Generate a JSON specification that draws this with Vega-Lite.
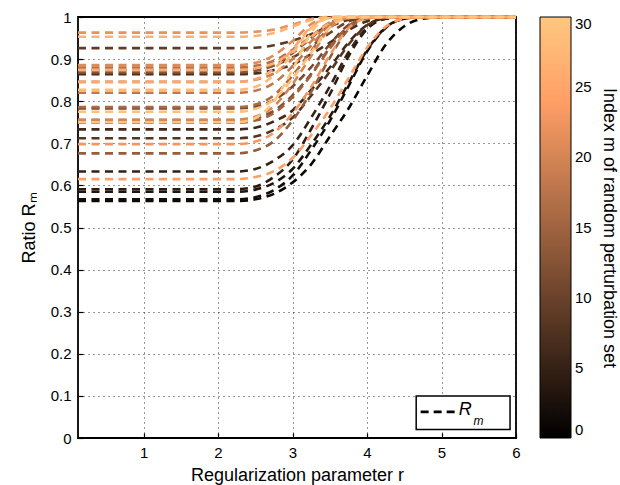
{
"$schema": "https://vega.github.io/schema/vega-lite/v6.json",
"width": 438, "height": 421,
"autosize": {"type": "none"},
"padding": {"left": 78, "top": 17, "right": 104, "bottom": 47},
"background": "white",
"config": {
  "font": "Liberation Sans",
  "view": {"stroke": "black", "strokeWidth": 1.8},
  "axis": {"domain": false, "grid": true, "gridColor": "#000000", "gridOpacity": 0.8, "gridDash": [1, 4], "gridWidth": 1, "tickColor": "#000000", "tickSize": -5, "tickWidth": 1.2, "labelPadding": 12, "labelFlush": false, "labelFontSize": 15, "labelColor": "#000000", "titleFontSize": 18, "titleFontWeight": "normal", "titleColor": "#000000"}
},
"layer": [
 {
  "data": {"values": [
{"m":1,"r":0.12,"v":0.563},{"m":1,"r":2.25,"v":0.563},{"m":1,"r":2.5,"v":0.567},{"m":1,"r":2.75,"v":0.58},{"m":1,"r":3,"v":0.607},{"m":1,"r":3.25,"v":0.65},{"m":1,"r":3.5,"v":0.716},{"m":1,"r":3.75,"v":0.782},{"m":1,"r":4,"v":0.86},{"m":1,"r":4.25,"v":0.934},{"m":1,"r":4.5,"v":0.978},{"m":1,"r":4.75,"v":0.996},{"m":1,"r":5,"v":1},{"m":1,"r":6,"v":1},
{"m":2,"r":0.12,"v":0.567},{"m":2,"r":2.25,"v":0.567},{"m":2,"r":2.5,"v":0.572},{"m":2,"r":2.75,"v":0.589},{"m":2,"r":3,"v":0.623},{"m":2,"r":3.25,"v":0.684},{"m":2,"r":3.5,"v":0.753},{"m":2,"r":3.75,"v":0.835},{"m":2,"r":4,"v":0.918},{"m":2,"r":4.25,"v":0.974},{"m":2,"r":4.5,"v":0.996},{"m":2,"r":4.75,"v":1},{"m":2,"r":6,"v":1},
{"m":3,"r":0.12,"v":0.585},{"m":3,"r":2.25,"v":0.585},{"m":3,"r":2.5,"v":0.59},{"m":3,"r":2.75,"v":0.606},{"m":3,"r":3,"v":0.639},{"m":3,"r":3.25,"v":0.697},{"m":3,"r":3.5,"v":0.763},{"m":3,"r":3.75,"v":0.842},{"m":3,"r":4,"v":0.921},{"m":3,"r":4.25,"v":0.975},{"m":3,"r":4.5,"v":0.996},{"m":3,"r":4.75,"v":1},{"m":3,"r":6,"v":1},
{"m":4,"r":0.12,"v":0.591},{"m":4,"r":2.25,"v":0.591},{"m":4,"r":2.5,"v":0.597},{"m":4,"r":2.75,"v":0.62},{"m":4,"r":3,"v":0.661},{"m":4,"r":3.25,"v":0.734},{"m":4,"r":3.5,"v":0.816},{"m":4,"r":3.75,"v":0.906},{"m":4,"r":4,"v":0.971},{"m":4,"r":4.25,"v":0.996},{"m":4,"r":4.5,"v":1},{"m":4,"r":6,"v":1},
{"m":5,"r":0.12,"v":0.633},{"m":5,"r":2.25,"v":0.633},{"m":5,"r":2.5,"v":0.639},{"m":5,"r":2.75,"v":0.659},{"m":5,"r":3,"v":0.695},{"m":5,"r":3.25,"v":0.761},{"m":5,"r":3.5,"v":0.835},{"m":5,"r":3.75,"v":0.916},{"m":5,"r":4,"v":0.974},{"m":5,"r":4.25,"v":0.996},{"m":5,"r":4.5,"v":1},{"m":5,"r":6,"v":1},
{"m":6,"r":0.12,"v":0.733},{"m":6,"r":2.25,"v":0.733},{"m":6,"r":2.5,"v":0.737},{"m":6,"r":2.75,"v":0.752},{"m":6,"r":3,"v":0.778},{"m":6,"r":3.25,"v":0.827},{"m":6,"r":3.5,"v":0.88},{"m":6,"r":3.75,"v":0.939},{"m":6,"r":4,"v":0.981},{"m":6,"r":4.25,"v":0.997},{"m":6,"r":4.5,"v":1},{"m":6,"r":6,"v":1},
{"m":7,"r":0.12,"v":0.864},{"m":7,"r":2.25,"v":0.864},{"m":7,"r":2.5,"v":0.866},{"m":7,"r":2.75,"v":0.874},{"m":7,"r":3,"v":0.887},{"m":7,"r":3.25,"v":0.912},{"m":7,"r":3.5,"v":0.939},{"m":7,"r":3.75,"v":0.969},{"m":7,"r":4,"v":0.99},{"m":7,"r":4.25,"v":0.999},{"m":7,"r":4.5,"v":1},{"m":7,"r":6,"v":1},
{"m":8,"r":0.12,"v":0.712},{"m":8,"r":2.25,"v":0.712},{"m":8,"r":2.5,"v":0.716},{"m":8,"r":2.75,"v":0.732},{"m":8,"r":3,"v":0.761},{"m":8,"r":3.25,"v":0.813},{"m":8,"r":3.5,"v":0.87},{"m":8,"r":3.75,"v":0.934},{"m":8,"r":4,"v":0.98},{"m":8,"r":4.25,"v":0.997},{"m":8,"r":4.5,"v":1},{"m":8,"r":6,"v":1},
{"m":9,"r":0.12,"v":0.926},{"m":9,"r":2.25,"v":0.926},{"m":9,"r":2.5,"v":0.927},{"m":9,"r":2.75,"v":0.933},{"m":9,"r":3,"v":0.944},{"m":9,"r":3.25,"v":0.959},{"m":9,"r":3.5,"v":0.978},{"m":9,"r":3.75,"v":0.993},{"m":9,"r":4,"v":0.999},{"m":9,"r":4.25,"v":1},{"m":9,"r":6,"v":1},
{"m":10,"r":0.12,"v":0.874},{"m":10,"r":2.25,"v":0.874},{"m":10,"r":2.5,"v":0.877},{"m":10,"r":2.75,"v":0.885},{"m":10,"r":3,"v":0.904},{"m":10,"r":3.25,"v":0.931},{"m":10,"r":3.5,"v":0.962},{"m":10,"r":3.75,"v":0.989},{"m":10,"r":4,"v":0.999},{"m":10,"r":4.25,"v":1},{"m":10,"r":6,"v":1},
{"m":11,"r":0.12,"v":0.783},{"m":11,"r":2.25,"v":0.783},{"m":11,"r":2.5,"v":0.787},{"m":11,"r":2.75,"v":0.803},{"m":11,"r":3,"v":0.835},{"m":11,"r":3.25,"v":0.881},{"m":11,"r":3.5,"v":0.935},{"m":11,"r":3.75,"v":0.981},{"m":11,"r":4,"v":0.998},{"m":11,"r":4.25,"v":1},{"m":11,"r":6,"v":1},
{"m":12,"r":0.12,"v":0.755},{"m":12,"r":2.25,"v":0.755},{"m":12,"r":2.5,"v":0.76},{"m":12,"r":2.75,"v":0.777},{"m":12,"r":3,"v":0.814},{"m":12,"r":3.25,"v":0.865},{"m":12,"r":3.5,"v":0.927},{"m":12,"r":3.75,"v":0.978},{"m":12,"r":4,"v":0.998},{"m":12,"r":4.25,"v":1},{"m":12,"r":6,"v":1},
{"m":13,"r":0.12,"v":0.868},{"m":13,"r":2.25,"v":0.868},{"m":13,"r":2.5,"v":0.872},{"m":13,"r":2.75,"v":0.885},{"m":13,"r":3,"v":0.914},{"m":13,"r":3.25,"v":0.95},{"m":13,"r":3.5,"v":0.986},{"m":13,"r":3.75,"v":0.999},{"m":13,"r":4,"v":1},{"m":13,"r":6,"v":1},
{"m":14,"r":0.12,"v":0.676},{"m":14,"r":2.25,"v":0.676},{"m":14,"r":2.5,"v":0.683},{"m":14,"r":2.75,"v":0.705},{"m":14,"r":3,"v":0.754},{"m":14,"r":3.25,"v":0.822},{"m":14,"r":3.5,"v":0.903},{"m":14,"r":3.75,"v":0.971},{"m":14,"r":4,"v":0.997},{"m":14,"r":4.25,"v":1},{"m":14,"r":6,"v":1},
{"m":15,"r":0.12,"v":0.749},{"m":15,"r":2.25,"v":0.749},{"m":15,"r":2.5,"v":0.754},{"m":15,"r":2.75,"v":0.772},{"m":15,"r":3,"v":0.809},{"m":15,"r":3.25,"v":0.862},{"m":15,"r":3.5,"v":0.925},{"m":15,"r":3.75,"v":0.977},{"m":15,"r":4,"v":0.998},{"m":15,"r":4.25,"v":1},{"m":15,"r":6,"v":1},
{"m":16,"r":0.12,"v":0.786},{"m":16,"r":2.25,"v":0.786},{"m":16,"r":2.5,"v":0.792},{"m":16,"r":2.75,"v":0.814},{"m":16,"r":3,"v":0.861},{"m":16,"r":3.25,"v":0.919},{"m":16,"r":3.5,"v":0.977},{"m":16,"r":3.75,"v":0.998},{"m":16,"r":4,"v":1},{"m":16,"r":6,"v":1},
{"m":17,"r":0.12,"v":0.88},{"m":17,"r":2.25,"v":0.88},{"m":17,"r":2.5,"v":0.884},{"m":17,"r":2.75,"v":0.896},{"m":17,"r":3,"v":0.922},{"m":17,"r":3.25,"v":0.954},{"m":17,"r":3.5,"v":0.987},{"m":17,"r":3.75,"v":0.999},{"m":17,"r":4,"v":1},{"m":17,"r":6,"v":1},
{"m":18,"r":0.12,"v":0.82},{"m":18,"r":2.25,"v":0.82},{"m":18,"r":2.5,"v":0.825},{"m":18,"r":2.75,"v":0.843},{"m":18,"r":3,"v":0.883},{"m":18,"r":3.25,"v":0.932},{"m":18,"r":3.5,"v":0.98},{"m":18,"r":3.75,"v":0.998},{"m":18,"r":4,"v":1},{"m":18,"r":6,"v":1},
{"m":19,"r":0.12,"v":0.846},{"m":19,"r":2.25,"v":0.846},{"m":19,"r":2.5,"v":0.851},{"m":19,"r":2.75,"v":0.866},{"m":19,"r":3,"v":0.9},{"m":19,"r":3.25,"v":0.942},{"m":19,"r":3.5,"v":0.983},{"m":19,"r":3.75,"v":0.998},{"m":19,"r":4,"v":1},{"m":19,"r":6,"v":1},
{"m":20,"r":0.12,"v":0.756},{"m":20,"r":2.25,"v":0.756},{"m":20,"r":2.5,"v":0.763},{"m":20,"r":2.75,"v":0.788},{"m":20,"r":3,"v":0.841},{"m":20,"r":3.25,"v":0.907},{"m":20,"r":3.5,"v":0.973},{"m":20,"r":3.75,"v":0.998},{"m":20,"r":4,"v":1},{"m":20,"r":6,"v":1},
{"m":21,"r":0.12,"v":0.886},{"m":21,"r":2.25,"v":0.886},{"m":21,"r":2.5,"v":0.891},{"m":21,"r":2.75,"v":0.909},{"m":21,"r":3,"v":0.943},{"m":21,"r":3.25,"v":0.983},{"m":21,"r":3.5,"v":0.999},{"m":21,"r":3.75,"v":1},{"m":21,"r":6,"v":1},
{"m":22,"r":0.12,"v":0.963},{"m":22,"r":2.25,"v":0.963},{"m":22,"r":2.5,"v":0.965},{"m":22,"r":2.75,"v":0.97},{"m":22,"r":3,"v":0.982},{"m":22,"r":3.25,"v":0.995},{"m":22,"r":3.5,"v":1},{"m":22,"r":6,"v":1},
{"m":23,"r":0.12,"v":0.698},{"m":23,"r":2.25,"v":0.698},{"m":23,"r":2.5,"v":0.704},{"m":23,"r":2.75,"v":0.725},{"m":23,"r":3,"v":0.771},{"m":23,"r":3.25,"v":0.834},{"m":23,"r":3.5,"v":0.909},{"m":23,"r":3.75,"v":0.973},{"m":23,"r":4,"v":0.997},{"m":23,"r":4.25,"v":1},{"m":23,"r":6,"v":1},
{"m":24,"r":0.12,"v":0.615},{"m":24,"r":2.25,"v":0.615},{"m":24,"r":2.5,"v":0.62},{"m":24,"r":2.75,"v":0.634},{"m":24,"r":3,"v":0.665},{"m":24,"r":3.25,"v":0.719},{"m":24,"r":3.5,"v":0.781},{"m":24,"r":3.75,"v":0.854},{"m":24,"r":4,"v":0.927},{"m":24,"r":4.25,"v":0.977},{"m":24,"r":4.5,"v":0.996},{"m":24,"r":4.75,"v":1},{"m":24,"r":6,"v":1},
{"m":25,"r":0.12,"v":0.846},{"m":25,"r":2.25,"v":0.846},{"m":25,"r":2.5,"v":0.852},{"m":25,"r":2.75,"v":0.877},{"m":25,"r":3,"v":0.923},{"m":25,"r":3.25,"v":0.977},{"m":25,"r":3.5,"v":0.998},{"m":25,"r":3.75,"v":1},{"m":25,"r":6,"v":1},
{"m":26,"r":0.12,"v":0.874},{"m":26,"r":2.25,"v":0.874},{"m":26,"r":2.5,"v":0.878},{"m":26,"r":2.75,"v":0.89},{"m":26,"r":3,"v":0.918},{"m":26,"r":3.25,"v":0.952},{"m":26,"r":3.5,"v":0.986},{"m":26,"r":3.75,"v":0.999},{"m":26,"r":4,"v":1},{"m":26,"r":6,"v":1},
{"m":27,"r":0.12,"v":0.953},{"m":27,"r":2.25,"v":0.953},{"m":27,"r":2.5,"v":0.955},{"m":27,"r":2.75,"v":0.962},{"m":27,"r":3,"v":0.977},{"m":27,"r":3.25,"v":0.993},{"m":27,"r":3.5,"v":1},{"m":27,"r":6,"v":1},
{"m":28,"r":0.12,"v":0.827},{"m":28,"r":2.25,"v":0.827},{"m":28,"r":2.5,"v":0.834},{"m":28,"r":2.75,"v":0.862},{"m":28,"r":3,"v":0.914},{"m":28,"r":3.25,"v":0.974},{"m":28,"r":3.5,"v":0.998},{"m":28,"r":3.75,"v":1},{"m":28,"r":6,"v":1},
{"m":29,"r":0.12,"v":0.775},{"m":29,"r":2.25,"v":0.775},{"m":29,"r":2.5,"v":0.782},{"m":29,"r":2.75,"v":0.804},{"m":29,"r":3,"v":0.854},{"m":29,"r":3.25,"v":0.915},{"m":29,"r":3.5,"v":0.975},{"m":29,"r":3.75,"v":0.998},{"m":29,"r":4,"v":1},{"m":29,"r":6,"v":1},
{"m":30,"r":0.12,"v":0.75},{"m":30,"r":2.25,"v":0.75},{"m":30,"r":2.5,"v":0.76},{"m":30,"r":2.75,"v":0.8},{"m":30,"r":3,"v":0.875},{"m":30,"r":3.25,"v":0.963},{"m":30,"r":3.5,"v":0.998},{"m":30,"r":3.75,"v":1},{"m":30,"r":6,"v":1}
  ]},
  "mark": {"type": "line", "strokeDash": [8, 5.5], "strokeWidth": 2.6, "interpolate": "monotone", "clip": false},
  "encoding": {
   "x": {"field": "r", "type": "quantitative", "scale": {"domain": [0.12, 6], "nice": false, "zero": false},
         "axis": {"values": [1, 2, 3, 4, 5, 6], "format": "~g", "title": "Regularization parameter r", "titlePadding": 6}},
   "y": {"field": "v", "type": "quantitative", "scale": {"domain": [0, 1], "nice": false},
         "axis": {"values": [0, 0.1, 0.2, 0.3, 0.4, 0.5, 0.6, 0.7, 0.8, 0.9, 1], "format": "~g", "labelPadding": 12, "title": "Ratio  Rₘ", "titlePadding": 12}},
   "color": {"field": "m", "type": "quantitative",
     "scale": {"domain": [0, 24, 30], "range": ["#000000", "#ff9f66", "#ffc77f"], "interpolate": "rgb"},
     "legend": {"orient": "none", "legendX": 462, "legendY": 0, "direction": "vertical", "gradientLength": 421, "gradientThickness": 31,
       "values": [0, 5, 10, 15, 20, 25, 30], "title": "Index m of random perturbation set", "titleOrient": "right", "titleLimit": 600,
       "titleFontSize": 18, "titleFontWeight": "normal", "titleColor": "#000000", "labelFontSize": 15, "labelColor": "#000000", "labelOffset": 4,
       "labelBaseline": "middle", "gradientStrokeColor": "#000000", "gradientStrokeWidth": 1, "titlePadding": 8}}
  }
 },
 {
  "data": {"values": [{}]},
  "mark": {"type": "rect", "fill": "white", "stroke": "black", "strokeWidth": 1.5},
  "encoding": {"x": {"datum": 4.66}, "x2": {"datum": 5.92}, "y": {"datum": 0.02}, "y2": {"datum": 0.1}}
 },
 {
  "data": {"values": [{}]},
  "mark": {"type": "rule", "stroke": "black", "strokeWidth": 2.6, "strokeDash": [8, 5]},
  "encoding": {"x": {"datum": 4.72}, "x2": {"datum": 5.2}, "y": {"datum": 0.062}}
 },
 {
  "data": {"values": [{}]},
  "mark": {"type": "text", "text": "R", "fontSize": 18, "fontStyle": "italic", "align": "left", "baseline": "middle", "color": "black"},
  "encoding": {"x": {"datum": 5.23}, "y": {"datum": 0.066}}
 },
 {
  "data": {"values": [{}]},
  "mark": {"type": "text", "text": "m", "fontSize": 12, "fontStyle": "italic", "align": "left", "baseline": "middle", "color": "black"},
  "encoding": {"x": {"datum": 5.43}, "y": {"datum": 0.04}}
 }
]
}
